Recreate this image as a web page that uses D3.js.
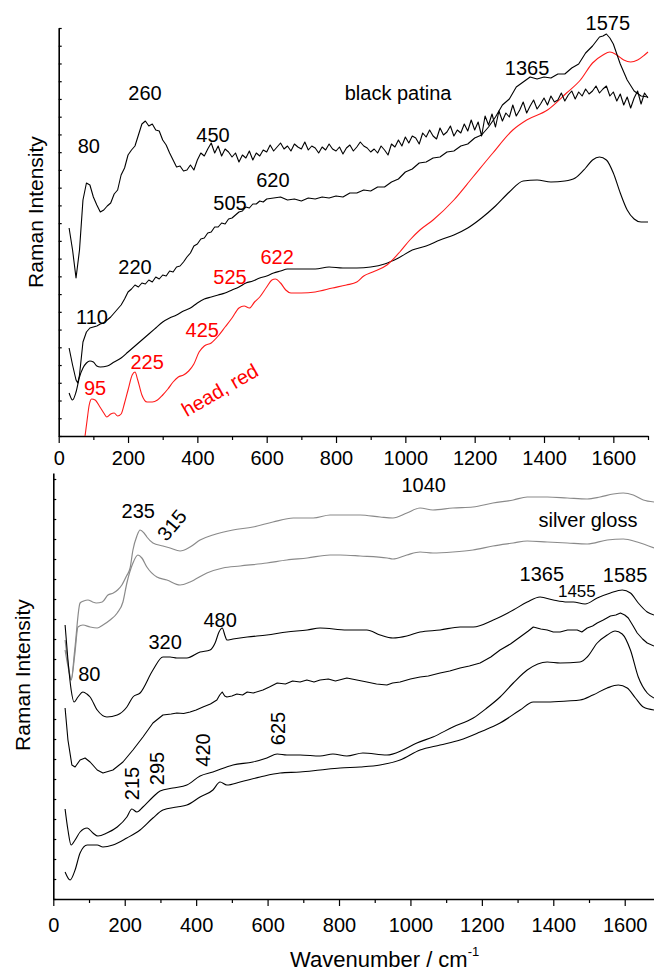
<!DOCTYPE html>
<html>
<head>
<meta charset="utf-8">
<script src="https://cdn.jsdelivr.net/npm/d3@7"></script>
<style>
  body { margin: 0; background: #fff; }
  svg { display: block; font-family: Arial, "Liberation Sans", sans-serif; }
</style>
</head>
<body>
<svg id="chart" width="654" height="974"></svg>
<script>
// ---------- Raman spectra, wavenumber (cm-1) vs. intensity (a.u., offset for display) ----------

// Upper panel
const patinaNoisy = [[30,416],[40,372],[50,316],[60,372],[70,472],[80,506],[90,502],[100,478],[110,462],[120,448],[130,452],[140,460],[150,466],[160,484],[170,492],[180,522],[190,536],[200,562],[210,572],[220,580],[230,602],[240,624],[250,630],[260,620],[270,624],[280,612],[290,610],[300,592],[310,582],[320,566],[330,552],[340,538],[350,540],[360,530],[370,532],[380,542],[390,532],[400,552],[410,566],[420,560],[430,574],[440,586],[450,566],[460,580],[470,560],[480,574],[490,568],[500,558],[510,566],[520,548],[530,562],[540,556],[550,570],[560,552],[570,566],[580,560],[590,572],[600,568],[610,582],[620,570],[630,578],[640,586],[650,574],[660,580],[670,570],[680,584],[690,578],[700,574],[710,588],[720,572],[730,580],[740,576],[750,566],[760,578],[770,572],[780,584],[790,574],[800,570],[810,578],[820,564],[830,576],[840,582],[850,570],[860,578],[870,588],[880,580],[890,576],[900,568],[910,574],[920,566],[930,580],[940,572],[950,562],[960,584],[970,578],[980,592],[990,580],[1000,598],[1010,586],[1020,600],[1030,596],[1040,584],[1050,606],[1060,598],[1070,612],[1080,600],[1090,594],[1100,616],[1110,602],[1120,608],[1130,620],[1140,600],[1150,612],[1160,606],[1170,624],[1180,610],[1190,632],[1200,612],[1210,628],[1220,600],[1230,640],[1240,622],[1250,644],[1260,618],[1270,650],[1280,630],[1290,646],[1300,638],[1310,662],[1320,640],[1330,652],[1340,668],[1350,646],[1360,660],[1370,672],[1380,654],[1390,664],[1400,676],[1410,662],[1420,680],[1430,668],[1440,672],[1450,686],[1460,670],[1470,682],[1480,690],[1490,674],[1500,688],[1510,680],[1520,694],[1530,684],[1540,690],[1550,700],[1560,686],[1570,694],[1580,700],[1590,680],[1600,688],[1610,670],[1620,684],[1630,662],[1640,678],[1650,656],[1660,676],[1670,690],[1680,664],[1690,686],[1700,676]];

const patinaB = [[30,176],[40,142],[50,112],[55,106],[60,122],[70,188],[80,208],[90,216],[100,218],[110,220],[120,224],[130,226],[140,232],[150,238],[160,246],[170,254],[180,262],[190,274],[200,288],[210,294],[220,302],[230,298],[240,306],[250,304],[260,312],[270,308],[280,318],[290,314],[300,322],[310,320],[320,330],[330,328],[340,338],[350,340],[360,348],[370,358],[380,366],[390,380],[400,384],[410,394],[420,396],[430,406],[440,408],[450,418],[460,418],[470,426],[480,424],[490,434],[500,436],[510,442],[520,448],[530,450],[540,458],[550,456],[560,464],[570,464],[580,470],[590,468],[600,474],[620,476],[640,478],[660,472],[680,474],[700,470],[720,476],[740,474],[760,478],[780,476],[800,480],[820,478],[840,486],[860,486],[880,492],[900,490],[920,498],[940,498],[960,508],[980,514],[1000,528],[1020,534],[1040,546],[1060,548],[1080,556],[1100,558],[1120,568],[1140,570],[1160,580],[1180,584],[1200,596],[1220,602],[1240,618],[1260,638],[1280,662],[1300,674],[1320,698],[1340,708],[1360,718],[1380,714],[1400,718],[1420,716],[1440,724],[1460,724],[1480,736],[1500,744],[1520,766],[1540,780],[1560,798],[1570,800],[1580,804],[1590,796],[1600,784],[1620,744],[1640,712],[1660,690],[1680,680],[1700,678]];

const patinaC = [[30,86],[40,72],[50,88],[60,118],[70,136],[80,146],[90,150],[100,148],[110,140],[120,138],[140,140],[160,148],[180,156],[200,168],[220,180],[240,192],[260,204],[280,216],[300,228],[320,236],[340,242],[360,250],[380,256],[400,266],[420,274],[440,278],[460,282],[480,286],[500,292],[520,298],[540,306],[560,310],[580,316],[600,320],[620,326],[640,330],[660,334],[700,334],[740,334],[780,338],[820,336],[860,336],[900,338],[940,344],[980,356],[1020,372],[1060,380],[1100,392],[1140,402],[1180,416],[1220,436],[1260,460],[1300,488],[1340,510],[1380,512],[1420,508],[1460,510],[1490,516],[1520,536],[1540,552],[1560,558],[1580,552],[1600,526],[1620,486],[1640,452],[1660,434],[1680,428],[1700,428]];

const headRed = [[76,0],[82,32],[88,62],[95,74],[105,72],[119,58],[130,46],[139,38],[150,44],[160,46],[170,40],[180,44],[190,66],[200,92],[212,122],[220,128],[228,112],[240,82],[255,68],[270,68],[285,72],[300,82],[315,94],[330,108],[345,118],[360,122],[375,130],[390,144],[405,168],[420,180],[440,186],[460,200],[480,218],[500,236],[520,256],[535,260],[550,256],[565,268],[580,278],[600,298],[615,312],[625,314],[640,306],[655,292],[670,286],[700,286],[740,288],[790,296],[830,302],[860,308],[880,320],[906,328],[947,342],[984,368],[1013,392],[1042,412],[1080,432],[1140,472],[1195,518],[1250,564],[1310,612],[1350,632],[1410,652],[1465,686],[1505,712],[1540,746],[1570,762],[1590,768],[1610,762],[1630,752],[1650,748],[1670,752],[1690,762],[1700,768]];

// Lower panel
const glossA = [[33,518],[42,468],[50,438],[60,498],[75,592],[85,596],[97,598],[110,594],[120,592],[137,594],[153,608],[168,612],[180,618],[192,628],[205,646],[215,662],[223,698],[234,726],[243,738],[254,732],[262,724],[279,712],[307,706],[327,702],[355,696],[383,704],[411,718],[447,728],[503,738],[559,744],[615,754],[672,762],[728,762],[775,768],[803,768],[859,768],[915,764],[951,762],[990,772],[1027,782],[1063,778],[1119,782],[1175,784],[1231,792],[1288,798],[1327,804],[1383,804],[1439,802],[1495,800],[1531,804],[1568,810],[1596,812],[1624,808],[1652,798],[1682,794]];

const glossB = [[33,498],[42,462],[50,438],[60,488],[69,544],[83,548],[103,544],[123,542],[139,548],[159,558],[179,572],[195,594],[206,632],[223,672],[237,688],[248,682],[262,664],[290,644],[318,638],[355,628],[383,634],[430,652],[475,662],[523,666],[598,672],[654,678],[711,682],[775,688],[803,688],[859,686],[935,682],[951,680],[990,688],[1027,694],[1063,692],[1119,694],[1175,698],[1231,706],[1288,712],[1327,716],[1383,714],[1439,712],[1495,710],[1551,718],[1596,720],[1635,714],[1682,702]];

const spotA = [[33,548],[41,478],[50,418],[58,394],[69,404],[83,414],[94,410],[103,404],[123,378],[150,364],[179,368],[206,384],[223,404],[243,412],[279,458],[307,484],[327,484],[346,482],[374,482],[411,494],[439,498],[453,512],[464,534],[473,542],[481,526],[486,518],[503,520],[543,524],[598,528],[654,534],[711,538],[747,542],[822,538],[878,538],[915,528],[951,522],[990,526],[1027,534],[1083,538],[1139,544],[1176,544],[1232,558],[1288,578],[1327,594],[1363,604],[1400,598],[1439,594],[1456,594],[1489,590],[1523,602],[1560,612],[1593,618],[1616,612],[1638,592],[1663,574],[1682,568]];

const spotB = [[33,382],[41,318],[52,268],[61,264],[75,278],[89,282],[103,274],[123,258],[139,252],[167,258],[195,274],[223,298],[251,324],[279,352],[307,368],[330,370],[346,372],[365,371],[383,374],[400,378],[419,384],[440,390],[458,398],[466,408],[473,414],[480,406],[486,404],[500,406],[514,410],[530,408],[543,414],[560,412],[587,418],[605,424],[627,432],[650,430],[670,436],[691,434],[710,438],[730,434],[747,438],[770,440],[790,436],[822,442],[850,438],[878,434],[905,430],[934,428],[950,432],[971,434],[1000,440],[1027,444],[1050,446],[1083,452],[1110,456],[1139,462],[1165,466],[1195,472],[1225,484],[1251,498],[1280,510],[1307,524],[1330,536],[1344,544],[1365,540],[1383,538],[1400,534],[1419,534],[1440,538],[1467,538],[1480,534],[1495,542],[1510,546],[1523,552],[1540,558],[1560,566],[1575,568],[1588,572],[1600,568],[1610,562],[1622,548],[1635,532],[1650,520],[1663,512],[1682,506]];

const spotC = [[33,180],[41,138],[50,108],[61,118],[75,134],[95,142],[111,132],[125,126],[150,132],[179,144],[206,164],[220,180],[234,174],[251,184],[279,204],[299,216],[335,222],[374,228],[411,246],[447,254],[503,268],[559,274],[598,282],[627,290],[654,288],[691,288],[747,286],[783,290],[822,286],[867,292],[934,288],[979,298],[1018,312],[1063,324],[1119,344],[1176,362],[1214,382],[1251,404],[1288,432],[1327,458],[1383,474],[1419,472],[1475,474],[1495,484],[1523,512],[1551,528],[1573,536],[1593,530],[1616,498],[1638,444],[1663,412],[1682,402]];

const spotD = [[33,54],[47,38],[61,58],[75,92],[95,108],[123,108],[139,104],[167,108],[206,122],[243,138],[279,162],[307,178],[346,184],[374,188],[411,204],[447,218],[467,234],[486,228],[523,234],[579,244],[635,252],[691,254],[747,258],[803,262],[859,264],[915,268],[971,278],[1027,298],[1083,308],[1139,318],[1195,334],[1251,352],[1307,378],[1344,394],[1383,394],[1439,396],[1475,398],[1511,408],[1551,422],[1582,428],[1607,422],[1630,402],[1652,384],[1682,378]];

// Axis ticks
const majorTicks = [0, 200, 400, 600, 800, 1000, 1200, 1400, 1600];
const minorTicksTop = [100, 300, 500, 700, 900, 1100, 1300, 1500, 1700];
const minorTicksBottom = [100, 300, 500, 700, 900, 1100, 1300, 1500];

// Band assignments: [text, wavenumber, intensity]
const topBlackLabels = [["80",87,580],["260",249,686],["450",445,602],["black patina",979,686],["1365",1351,736],["1575",1584,826],["620",618,512],["505",494,466],["220",220,338],["110",96,238]];
const topRedLabels = [["95",105,96],["225",255,148],["425",414,212],["525",494,318],["622",630,358]];
const topRedName = ["head, red", 465, 92];
const bottomLabels = [["235",238,777],["1040",1037,829],["silver gloss",1497,758],["1365",1368,651],["1585",1601,648],["480",467,558],["320",313,515],["80",101,451]];
const bottomSmallLabels = [["1455",1466,615]];
const bottomVerticalLabels = [["215",220,231],["295",290,261],["420",420,298],["625",629,341]];
const bottomSlantLabels = [["315",332,748]];

// ---------- drawing ----------
const svg = d3.select("#chart");

const panels = [
  { x: d3.scaleLinear().domain([0, 1700]).range([58.7, 648]),
    y: d3.scaleLinear().domain([0, 816]).range([436, 28]),
    minor: minorTicksTop, yTickStep: 816 / 23, labelPad: 8, titleX: 35.5, titleY: 212 },
  { x: d3.scaleLinear().domain([0, 1682]).range([53.3, 654]),
    y: d3.scaleLinear().domain([0, 852]).range([899, 473]),
    minor: minorTicksBottom, yTickStep: 40, labelPad: 11.5, titleX: 22.5, titleY: 675 }
];

panels.forEach(p => {
  const base = p.y.range()[0];
  const gx = svg.append("g").attr("transform", `translate(0,${base})`);
  gx.call(d3.axisBottom(p.x).tickValues(majorTicks).tickSize(7).tickSizeOuter(0)
      .tickPadding(p.labelPad).tickFormat(d3.format("d")));
  gx.append("g").call(d3.axisBottom(p.x).tickValues(p.minor).tickSize(4).tickFormat(""))
    .select(".domain").remove();
  gx.selectAll("text").attr("font-size", 20).attr("font-family", "Arial, 'Liberation Sans', sans-serif").attr("fill", "#000");

  const yTicks = d3.range(0, p.y.domain()[1] + 0.01, p.yTickStep);
  const gy = svg.append("g").attr("transform", `translate(${p.x.range()[0]},0)`);
  gy.call(d3.axisRight(p.y).tickValues(yTicks).tickSize(3).tickSizeOuter(0).tickFormat(""));

  svg.selectAll(".domain").attr("stroke-width", 1.6);
  svg.selectAll(".tick line").attr("stroke-width", 1.2);

  svg.append("text")
    .attr("transform", `translate(${p.titleX},${p.titleY}) rotate(-90)`)
    .attr("text-anchor", "middle").attr("dominant-baseline", "central")
    .attr("font-size", 21).text("Raman Intensity");
});

function trace(p, data, color, curve, width) {
  const line = d3.line().x(d => p.x(d[0])).y(d => p.y(d[1])).curve(curve);
  svg.append("path").datum(data)
    .attr("d", line).attr("fill", "none")
    .attr("stroke", color).attr("stroke-width", width).attr("stroke-linejoin", "round");
}

const [P1, P2] = panels;
trace(P1, patinaC, "#000", d3.curveMonotoneX, 1.1);
trace(P1, headRed, "#ff1a1a", d3.curveMonotoneX, 1.1);
trace(P1, patinaB, "#000", d3.curveLinear, 1.1);
trace(P1, patinaNoisy, "#000", d3.curveLinear, 1.1);

trace(P2, glossA, "#8a8a8a", d3.curveMonotoneX, 1.2);
trace(P2, glossB, "#8a8a8a", d3.curveMonotoneX, 1.2);
trace(P2, spotA, "#000", d3.curveMonotoneX, 1.1);
trace(P2, spotB, "#000", d3.curveLinear, 1.1);
trace(P2, spotC, "#000", d3.curveMonotoneX, 1.1);
trace(P2, spotD, "#000", d3.curveMonotoneX, 1.1);

function labels(p, list, color, size, angle) {
  svg.append("g").selectAll("text").data(list).join("text")
    .attr("transform", d => `translate(${p.x(d[1])},${p.y(d[2])}) rotate(${angle})`)
    .attr("text-anchor", "middle").attr("dominant-baseline", "central")
    .attr("font-size", size).attr("fill", color).text(d => d[0]);
}

labels(P1, topBlackLabels, "#000", 20, 0);
labels(P1, topRedLabels, "#ff0000", 20, 0);
labels(P1, [topRedName], "#ff0000", 20, -30);
labels(P2, bottomLabels, "#000", 20, 0);
labels(P2, bottomSmallLabels, "#000", 17, 0);
labels(P2, bottomVerticalLabels, "#000", 20, -90);
labels(P2, bottomSlantLabels, "#000", 20, -50);

const xt = svg.append("text").attr("x", 290).attr("y", 967).attr("font-size", 22);
xt.append("tspan").text("Wavenumber / cm");
xt.append("tspan").attr("font-size", 13).attr("dy", -11).text("-1");
</script>
</body>
</html>
